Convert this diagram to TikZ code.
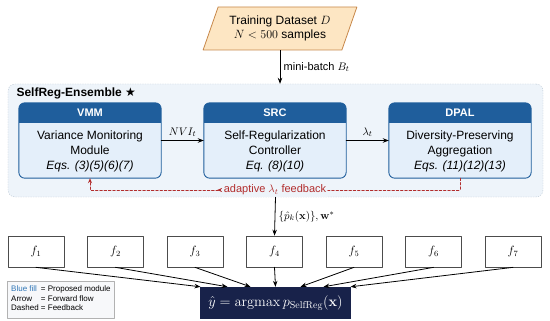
\documentclass[tikz,border=0pt]{standalone}
\usepackage{amsmath}
\usepackage[no-math]{fontspec}
\setmainfont{Liberation Sans}
\newfontfamily\symfont{DejaVu Sans}
\usetikzlibrary{arrows.meta,shapes.geometric}

\definecolor{datafill}{HTML}{FDE6C3}
\definecolor{dataline}{HTML}{C7884A}
\definecolor{hdrblue}{HTML}{1F5E9C}
\definecolor{modfill}{HTML}{E4EFFA}
\definecolor{ensfill}{HTML}{EEF4FA}
\definecolor{ensline}{HTML}{B5C2CF}
\definecolor{outfill}{HTML}{18224A}
\definecolor{fbred}{HTML}{B22D2D}
\definecolor{legfill}{HTML}{F7F8FA}
\definecolor{legblue}{HTML}{2E75B6}

% Модуль: имя, центр по x, заголовок, текст
\newcommand\modbox[4]{%
  \node[modbody] (#1) at (#2,140.5) {};
  \begin{scope}
    \clip[rounded corners=6pt] (#1.south west) rectangle (#1.north east);
    \fill[hdrblue] (#1.north west) rectangle ([yshift=-20pt]#1.north east);
  \end{scope}
  \draw[hdrblue,line width=0.9pt,rounded corners=6pt]
    (#1.south west) rectangle (#1.north east);
  \node[hdrtext] (#1-h) at ([yshift=-10pt]#1.north) {#3};
  \node[bodytext] (#1-b) at ([yshift=-10.5pt]#1.center) {#4};
}

\begin{document}
\begin{tikzpicture}[
  x=1pt,
  y=-1pt,
  line cap=round,
  line join=round,
  flow/.style={line width=0.8pt,-{Stealth[length=6pt,width=4.5pt]}},
  fb/.style={fbred,line width=0.8pt,dash pattern=on 2.5pt off 1.8pt},
  dataset/.style={trapezium,trapezium left angle=68,trapezium right angle=112,
    trapezium stretches=true,minimum width=154pt,minimum height=43pt,
    draw=dataline,fill=datafill,line width=0.8pt,align=center,
    font=\fontsize{12}{14.5}\selectfont},
  ensemble/.style={draw=ensline,fill=ensfill,dash pattern=on 1pt off 1.5pt,
    rounded corners=7pt,minimum width=535pt,minimum height=113pt},
  modbody/.style={fill=modfill,rounded corners=6pt,
    minimum width=142pt,minimum height=75pt},
  hdrtext/.style={text=white,font=\fontsize{11}{13}\selectfont\bfseries},
  bodytext/.style={align=center,font=\fontsize{12}{15}\selectfont},
  fbox/.style={draw=black!70,line width=0.7pt,minimum width=56pt,
    minimum height=31pt,font=\fontsize{12}{14}\selectfont},
  lbl/.style={font=\fontsize{11}{13}\selectfont}
]
  \useasboundingbox (0,0) rectangle (550,321);

  % Обучающая выборка
  \node[dataset] (data) at (280,28.5) {Training Dataset $D$\\$N < 500$ samples};

  % Ансамбль
  \node[ensemble] (ens) at (275.5,140.5) {};
  \node[anchor=west,font=\fontsize{12}{14}\selectfont\bfseries] (ttl) at (13,93)
    {SelfReg-Ensemble {\symfont ★}};

  \draw[flow] (data.south) -- (data.south |- ens.north)
    node[lbl,midway,right] {mini-batch $B_t$};

  % Модули
  \modbox{vmm}{90}{VMM}{Variance Monitoring\\Module\\\textit{Eqs. (3)(5)(6)(7)}}
  \modbox{src}{275}{SRC}{Self-Regularization\\Controller\\\textit{Eq. (8)(10)}}
  \modbox{dpal}{460}{DPAL}{Diversity-Preserving\\Aggregation\\\textit{Eqs. (11)(12)(13)}}

  \draw[flow] (vmm.east) -- (src.west) node[lbl,midway,above] {$NVI_t$};
  \draw[flow] (src.east) -- (dpal.west) node[lbl,midway,above] {$\lambda_t$};

  % Обратная связь
  \node[fbred,fill=ensfill,inner sep=1.5pt,lbl] (fbl) at (275,190)
    {adaptive $\lambda_t$ feedback};
  \draw[fb] (dpal.south) |- (fbl.east);
  \draw[fb,{Stealth[reversed,length=5pt,width=4pt]}-{Stealth[length=5pt,width=4pt]}]
    (fbl.west) -| (vmm.south);

  % Базовые модели
  \foreach \i in {1,...,7}
    \node[fbox] (f\i) at ({36+79.5*(\i-1)},251.5) {$f_{\i}$};

  \draw[flow] (ens.south) -- (f4.north)
    node[lbl,midway,right] {$\{\hat{p}_k(\mathbf{x})\},\mathbf{w}^{*}$};

  % Итоговое решение
  \node[fill=outfill,text=white,minimum width=151pt,minimum height=32pt,
    font=\fontsize{14}{16}\selectfont] (out) at (275.5,303)
    {$\hat{y} = \mathrm{argmax}\,p_{\mathrm{SelfReg}}(\mathbf{x})$};

  \foreach \i/\dx in {1/-75,2/-48,3/-25,4/0,5/25,6/48,7/75}
    \draw[flow] (f\i.south) -- ([xshift=\dx pt]out.north);

  % Легенда
  \node[draw=black!30,fill=legfill,anchor=north west,inner sep=4pt,
    font=\fontsize{8}{9.5}\selectfont] (leg) at (7,281)
    {\begin{tabular}{@{}l@{ }l@{}}
      \textcolor{legblue}{Blue fill} & = Proposed module\\
      Arrow & = Forward flow\\
      Dashed & = Feedback
    \end{tabular}};
\end{tikzpicture}
\end{document}
